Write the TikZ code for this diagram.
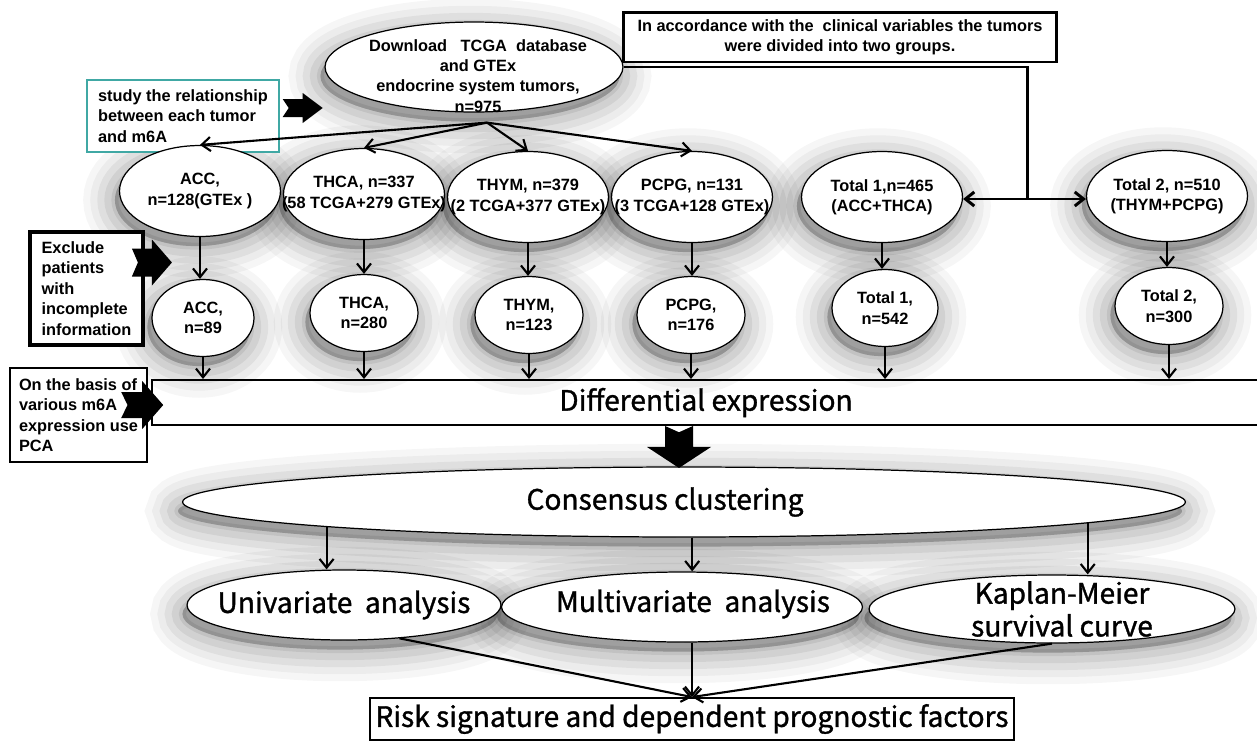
\documentclass[tikz,border=0pt]{standalone}
\usepackage{fontspec}
\setmainfont{Noto Sans CJK SC}
\newfontfamily\boxfont{Liberation Sans}
\newfontfamily\stepfont{Noto Sans CJK SC}[FakeBold=1.2]
\usetikzlibrary{arrows.meta,calc,shapes.geometric,backgrounds}
\definecolor{StudyTeal}{RGB}{64,168,164}

\begin{document}
\begin{tikzpicture}[x=0.02cm, y=-0.02cm,
  oval/.style={ellipse, draw, fill=white, line width=0.7pt, inner sep=0pt},
  smalltext/.style={font=\fontsize{9.3}{11.6}\selectfont\boxfont\bfseries, align=center},
  bigtext/.style={font=\fontsize{16}{18.7}\selectfont\stepfont, align=center},
  flow/.style={-{Straight Barb[length=5pt,width=8pt]}, line width=1.2pt},
  pics/fatarrow/.style n args={3}{code={
    \fill[black] (0,-#2) -- (0.5*#1,-#2) -- (0.5*#1,-#3) -- (#1,0) -- (0.5*#1,#3) -- (0.5*#1,#2) -- (0,#2) -- (0.15*#1,0) -- cycle;}}]
  \useasboundingbox (0,0) rectangle (1257,741);

  % Source data
  \node[oval, minimum width=5.96cm, minimum height=1.8cm,
    label={[smalltext, font=\fontsize{9.3}{11.5}\selectfont\boxfont\bfseries, xshift=0.08cm, yshift=-0.18cm]center:{Download\ \ \ TCGA\ \ database\\and GTEx\\endocrine system tumors,\\n=975}}] (dl) at (474,67) {};
  \node[draw, line width=1.7pt, fill=white, minimum width=8.68cm, minimum height=1cm, smalltext] (note) at (840,37)
    {In accordance with the\ \ clinical variables the tumors\\were divided into two groups.};
  \node[draw=StudyTeal, line width=0.8pt, fill=white, minimum width=3.84cm, minimum height=1.44cm, smalltext, align=left] (study) at (183,116)
    {study the relationship\\between each tumor\\and m6A};
  \coordinate (split) at ($(dl.south)+(13,10)$);
  \coordinate (hub) at (1027,199);

  % Tumor groups
  \foreach \n/\x/\y/\t in {acc1/200/191/{ACC,\\n=128(GTEx )}, thca1/364/194/{THCA, n=337\\(58 TCGA+279 GTEx)},
      thym1/528/197/{THYM, n=379\\(2 TCGA+377 GTEx)}, pcpg1/692/197/{PCPG, n=131\\(3 TCGA+128 GTEx)},
      tot1a/882/197/{Total 1,n=465\\(ACC+THCA)}, tot2a/1167/196/{Total 2, n=510\\(THYM+PCPG)}}
    \node[oval, minimum width=3.22cm, minimum height=1.82cm, label={[smalltext]center:\t}] (\n) at (\x,\y) {};

  % After exclusion
  \foreach \n/\x/\y/\w/\t in {acc2/203/318/2.04/{ACC,\\n=89}, thca2/364/313/2.16/{THCA,\\n=280},
      thym2/529/315/2.16/{THYM,\\n=123}, pcpg2/691/315/2.16/{PCPG,\\n=176},
      tot1b/885/308/2.12/{Total 1,\\n=542}, tot2b/1169/306/2.16/{Total 2,\\n=300}}
    \node[oval, minimum width=\w cm, minimum height=1.54cm, label={[smalltext]center:\t}] (\n) at (\x,\y) {};

  \node[draw, line width=2.2pt, fill=white, minimum width=2.26cm, minimum height=2.26cm, smalltext, align=left] (excl) at (86.5,288.5)
    {Exclude\\patients\\with\\incomplete\\information};
  \node[draw, line width=1.1pt, minimum width=22.16cm, minimum height=0.9cm, bigtext] (diff) at (706,402.5) {Differential expression};
  \node[draw, line width=1.4pt, fill=white, minimum width=2.74cm, minimum height=1.88cm, smalltext, align=left] (basis) at (78.5,415)
    {On the basis of\\various m6A\\expression use\\PCA};

  % Analysis
  \node[oval, minimum width=20.06cm, minimum height=1.4cm, label={[bigtext, xshift=-0.38cm]center:{Consensus clustering}}] (cons) at (684,502) {};
  \node[oval, minimum width=6.28cm, minimum height=1.4cm, label={[bigtext]center:{Univariate\ \ analysis}}] (uni) at (344,605) {};
  \node[oval, minimum width=7.22cm, minimum height=1.4cm, label={[bigtext, xshift=0.22cm, yshift=0.06cm]center:{Multivariate\ \ analysis}}] (multi) at (682,607) {};
  \node[oval, minimum width=7.32cm, minimum height=1.36cm, label={[bigtext, xshift=0.2cm]center:{Kaplan-Meier\\survival curve}}] (km) at (1052,609) {};
  \node[draw, line width=1.1pt, fill=white, minimum width=12.84cm, minimum height=0.84cm, bigtext] (risk) at (692,719)
    {Risk signature and dependent prognostic factors};

  % Connectors
  \foreach \n in {acc1,thca1,thym1,pcpg1} \draw[flow] (split) -- (\n.north);
  \draw[line width=1.7pt] (dl.east) -- (dl.east -| hub) -- (hub);
  \draw[flow, line width=1.7pt] (hub) -- (hub -| tot1a.east);
  \draw[flow, line width=1.7pt] (hub) -- (hub -| tot2a.west);
  \foreach \a/\b in {acc1/acc2, thca1/thca2, thym1/thym2, pcpg1/pcpg2, tot1a/tot1b, tot2a/tot2b} {
    \draw[flow] (\a.south) -- (\a.south |- \b.north);
    \draw[flow] (\b.south) -- (\b.south |- diff.north);
  }
  \draw[flow] (cons.184) -- (cons.184 |- uni.north);
  \draw[flow] (cons.283) -- (cons.283 |- multi.north);
  \draw[flow] (cons.357) -- (cons.357 |- km.north);
  \draw[flow] (uni.329) -- (risk.north);
  \draw[flow] (multi.south -| risk.north) -- (risk.north);
  \draw[flow] (km.south) -- (risk.north);

  % Block arrows
  \pic at ($(study.east)+(3,-8)$) {fatarrow={40}{9}{15}};
  \pic at ($(excl.east)+(-13,-26)$) {fatarrow={40}{14}{23}};
  \pic at ($(basis.east)+(-27,-10)$) {fatarrow={42}{13}{24}};
  \pic[rotate=-90] at ($(diff.south)+(-27,0)$) {fatarrow={42}{14}{32}};

  % Soft shadows
  \begin{scope}[on background layer]
    \fill[white] (0,0) rectangle (1257,741);
    \foreach \s in {dl,acc1,thca1,thym1,pcpg1,tot1a,tot2a,acc2,thca2,thym2,pcpg2,tot1b,tot2b,cons,uni,multi,km}
      \foreach \w/\o in {36/0.035,28/0.04,20/0.05,12/0.06,4/0.07}
        \filldraw[black, opacity=\o, line width=\w pt] let \p1=($(\s.east)-(\s.center)$), \p2=($(\s.north)-(\s.center)$) in
          ($(\s.center)+(-4,9)$) ellipse [x radius=\x1, y radius=\y2];
  \end{scope}
\end{tikzpicture}
\end{document}
